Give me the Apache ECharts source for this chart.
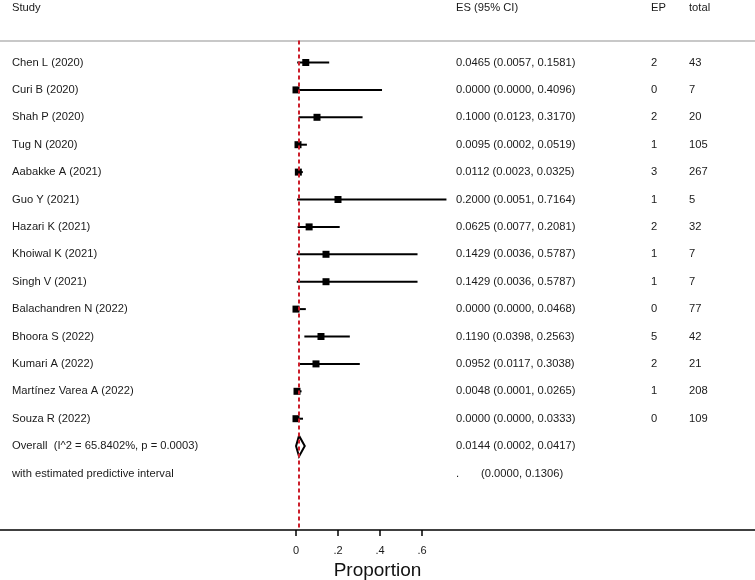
<!DOCTYPE html>
<html><head><meta charset="utf-8">
<script src="https://cdn.jsdelivr.net/npm/echarts@6/dist/echarts.min.js"></script>
<style>html,body{margin:0;padding:0;background:#fff}#c{width:755px;height:580px}</style>
</head><body><div id="c"></div>
<script>
const headers = ['Study', 'ES (95% CI)', 'EP', 'total'];
const studies = ['Chen L (2020)', 'Curi B (2020)', 'Shah P (2020)', 'Tug N (2020)', 'Aabakke A (2021)', 'Guo Y (2021)', 'Hazari K (2021)', 'Khoiwal K (2021)', 'Singh V (2021)', 'Balachandren N (2022)', 'Bhoora S (2022)', 'Kumari A (2022)', 'Martínez Varea A (2022)', 'Souza R (2022)'];
const es     = [0.0465, 0.0000, 0.1000, 0.0095, 0.0112, 0.2000, 0.0625, 0.1429, 0.1429, 0.0000, 0.1190, 0.0952, 0.0048, 0.0000];
const ciLow  = [0.0057, 0.0000, 0.0123, 0.0002, 0.0023, 0.0051, 0.0077, 0.0036, 0.0036, 0.0000, 0.0398, 0.0117, 0.0001, 0.0000];
const ciHigh = [0.1581, 0.4096, 0.3170, 0.0519, 0.0325, 0.7164, 0.2081, 0.5787, 0.5787, 0.0468, 0.2563, 0.3038, 0.0265, 0.0333];
const ep     = [2, 0, 2, 1, 3, 1, 2, 1, 1, 0, 5, 2, 1, 0];
const total  = [43, 7, 20, 105, 267, 5, 32, 7, 7, 77, 42, 21, 208, 109];
const overallLabel = 'Overall  (I^2 = 65.8402%, p = 0.0003)';
const overallES = 0.0144, overallLow = 0.0002, overallHigh = 0.0417;
const predLabel = 'with estimated predictive interval';
const predLow = 0.0000, predHigh = 0.1306;
const xTicks = [0, 0.2, 0.4, 0.6];
const xTickLabels = ['0', '.2', '.4', '.6'];
const axisTitle = 'Proportion';

const FONT = '"Liberation Sans", Arial, Helvetica, sans-serif';
const TXT = '#1a1a1a';
const TFONT = '11.2px ' + FONT;
const f4 = v => v.toFixed(4);
const n = studies.length;
const overallRow = n, predRow = n + 1;

// table rows: [rowIndex, col1, col2, col3, col4]
const tableRows = [[-1.98, headers[0], headers[1], headers[2], headers[3]]];
studies.forEach((s, i) => tableRows.push([i, s, f4(es[i]) + ' (' + f4(ciLow[i]) + ', ' + f4(ciHigh[i]) + ')', String(ep[i]), String(total[i])]));
tableRows.push([overallRow, overallLabel, f4(overallES) + ' (' + f4(overallLow) + ', ' + f4(overallHigh) + ')', '', '']);
tableRows.push([predRow, predLabel, '.|(' + f4(predLow) + ', ' + f4(predHigh) + ')', '', '']);

const colX = [12, 456, 651, 689];
const studyData = studies.map((s, i) => [i, es[i], ciLow[i], ciHigh[i]]);

const chart = echarts.init(document.getElementById('c'));
chart.setOption({
  animation: false,
  backgroundColor: '#fff',
  grid: { left: 0, right: 0, top: 0, bottom: 50, containLabel: false, outerBoundsMode: 'none' },
  xAxis: {
    type: 'value', min: -296 / 210, max: 459 / 210,
    splitLine: { show: false },
    axisLine: { show: true, onZero: false, lineStyle: { color: '#000', width: 1.5 } },
    axisTick: { show: true, customValues: xTicks, length: 6, lineStyle: { color: '#000', width: 1.5 } },
    axisLabel: {
      customValues: xTicks, margin: 15, color: TXT, fontSize: 11, fontFamily: FONT,
      formatter: v => { let k = 0; xTicks.forEach((t, j) => { if (Math.abs(t - v) < 1e-6) k = j; }); return xTickLabels[k]; }
    },
    name: axisTitle, nameLocation: 'middle', nameGap: 27,
    nameTextStyle: { fontSize: 19, color: '#111', fontFamily: FONT }
  },
  yAxis: { type: 'value', inverse: true, min: -62.5 / 27.4, max: 467.5 / 27.4, show: false },
  series: [
    {
      type: 'custom', name: 'table', data: tableRows, z: 1, silent: true,
      renderItem: (params, api) => {
        const r = tableRows[params.dataIndex];
        const y = api.coord([0, r[0]])[1];
        const kids = [];
        for (let c = 1; c <= 4; c++) {
          let t = r[c];
          if (!t) continue;
          if (t.indexOf('|') >= 0) {
            const parts = t.split('|');
            kids.push({ type: 'text', style: { x: colX[1], y: y, text: parts[0], fill: TXT, font: TFONT, verticalAlign: 'middle' } });
            kids.push({ type: 'text', style: { x: colX[1] + 25, y: y, text: parts[1], fill: TXT, font: TFONT, verticalAlign: 'middle' } });
            continue;
          }
          kids.push({ type: 'text', style: { x: colX[c - 1], y: y, text: t, fill: TXT, font: TFONT, verticalAlign: 'middle' } });
        }
        return { type: 'group', children: kids };
      }
    },
    {
      type: 'line', name: 'refs', data: [], z: 2,
      markLine: {
        silent: true, symbol: 'none', label: { show: false },
        data: [
          [{ coord: [-296 / 210, -0.8], lineStyle: { color: '#c8c8c8', width: 2, type: 'solid' } }, { coord: [459 / 210, -0.8] }],
          [{ coord: [overallES, -0.8], lineStyle: { color: '#cc1f2b', width: 2, type: [4, 3] } }, { coord: [overallES, 467.5 / 27.4] }]
        ]
      }
    },
    {
      type: 'custom', name: 'studies', data: studyData, z: 3,
      renderItem: (params, api) => {
        const i = api.value(0);
        const c = api.coord([api.value(1), i]);
        const lo = api.coord([api.value(2), i]);
        const hi = api.coord([api.value(3), i]);
        return { type: 'group', children: [
          { type: 'line', shape: { x1: lo[0], y1: lo[1], x2: hi[0], y2: hi[1] }, style: { stroke: '#000', lineWidth: 2 } },
          { type: 'rect', shape: { x: c[0] - 3.5, y: c[1] - 3.5, width: 7, height: 7 }, style: { fill: '#000' } }
        ] };
      }
    },
    {
      type: 'custom', name: 'overall', data: [[overallRow, overallES, overallLow, overallHigh]], z: 4,
      renderItem: (params, api) => {
        const i = api.value(0);
        const pts = [
          api.coord([api.value(2), i]),
          api.coord([api.value(1), i - 0.38]),
          api.coord([api.value(3), i]),
          api.coord([api.value(1), i + 0.38])
        ];
        return { type: 'polygon', shape: { points: pts }, style: { fill: 'none', stroke: '#000', lineWidth: 2 } };
      }
    }
  ]
});
</script></body></html>
